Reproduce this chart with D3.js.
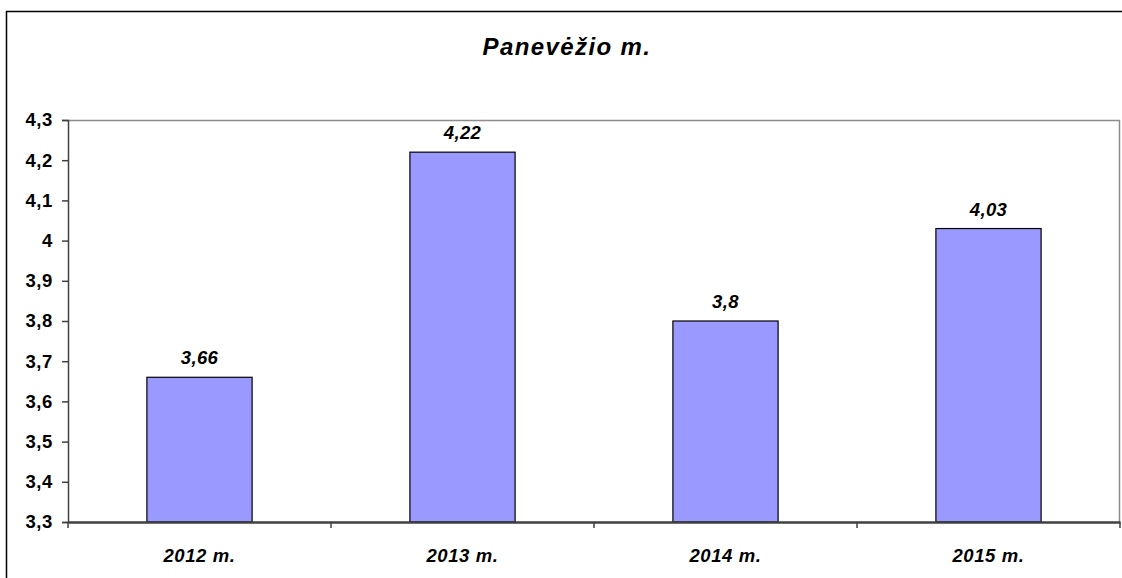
<!DOCTYPE html>
<html>
<head>
<meta charset="utf-8">
<script src="https://cdn.jsdelivr.net/npm/d3@7"></script>
<style>
  body { margin: 0; background: #fff; }
  svg text { font-family: "Liberation Sans", Arial, sans-serif; }
</style>
</head>
<body>
<script>
// Duomenys
var metai = ["2012 m.", "2013 m.", "2014 m.", "2015 m."];
var reiksmes = [3.66, 4.22, 3.8, 4.03];
var yTicks = [3.3, 3.4, 3.5, 3.6, 3.7, 3.8, 3.9, 4.0, 4.1, 4.2, 4.3];
var pavadinimas = "Panevėžio m.";

var W = 1122, H = 578;
var margin = { top: 120, right: 2, bottom: 56, left: 68 },
    width = W - margin.left - margin.right,
    height = H - margin.top - margin.bottom,
    barColor = "#9999FF";

var fmt = function(v) { return String(v).replace(".", ","); };

var svg = d3.select("body").append("svg")
  .attr("width", W)
  .attr("height", H);

// išorinis rėmelis
svg.append("path")
  .attr("d", "M6.5," + H + "V11.5H" + W)
  .attr("fill", "none")
  .attr("stroke", "#000")
  .attr("stroke-width", 1.5);

// pavadinimas
svg.append("text")
  .attr("x", 567)
  .attr("y", 55)
  .attr("text-anchor", "middle")
  .style("font-size", "24px")
  .style("font-weight", "bold")
  .style("font-style", "italic")
  .style("letter-spacing", "1.4px")
  .text(pavadinimas);

var g = svg.append("g")
  .attr("transform", "translate(" + margin.left + "," + margin.top + ")");

var x = d3.scaleBand().domain(metai).range([0, width]).paddingInner(0.6).paddingOuter(0.3);
var xCat = d3.scaleBand().domain(metai).range([0, width]);
var y = d3.scaleLinear().domain([3.3, 4.3]).range([height, 0]);

// ploto rėmelis (viršus, dešinė)
g.append("path")
  .attr("d", "M0,0.5H" + (width - 0.5) + "V" + height)
  .attr("fill", "none")
  .attr("stroke", "#8c8c8c")
  .attr("stroke-width", 1.5);

// stulpeliai
g.selectAll("rect.bar")
  .data(reiksmes)
  .enter()
  .append("rect")
  .attr("class", "bar")
  .attr("x", function(d, i) { return x(metai[i]); })
  .attr("width", x.bandwidth())
  .attr("y", function(d) { return y(d); })
  .attr("height", function(d) { return height - y(d); })
  .attr("fill", barColor)
  .attr("stroke", "#000")
  .attr("stroke-width", 1.2);

// reikšmių žymės
g.selectAll("text.val")
  .data(reiksmes)
  .enter()
  .append("text")
  .attr("class", "val")
  .attr("x", function(d, i) { return x(metai[i]) + x.bandwidth() / 2; })
  .attr("y", function(d) { return y(d) - 13; })
  .attr("text-anchor", "middle")
  .style("font-size", "18.5px")
  .style("font-weight", "bold")
  .style("font-style", "italic")
  .style("letter-spacing", "0.4px")
  .text(function(d) { return fmt(d); });

// Y ašis
var yAxis = g.append("g")
  .call(d3.axisLeft(y).tickValues(yTicks).tickSize(6).tickPadding(9)
    .tickFormat(function(d) { return fmt(+d.toFixed(1)); }));
yAxis.select(".domain").attr("stroke", "#404040").attr("stroke-width", 1.5);
yAxis.selectAll(".tick line").attr("stroke", "#404040").attr("stroke-width", 1.5);
yAxis.selectAll("text")
  .attr("fill", "#000")
  .style("font-size", "18.5px")
  .style("font-weight", "bold")
  .style("letter-spacing", "0.6px");

// X ašis
var xAxis = g.append("g")
  .attr("transform", "translate(0," + height + ")")
  .call(d3.axisBottom(xCat).tickSize(0).tickPadding(27));
xAxis.select(".domain").attr("stroke", "#404040").attr("stroke-width", 2.5);
xAxis.selectAll("text")
  .attr("fill", "#000")
  .style("font-size", "18.5px")
  .style("font-weight", "bold")
  .style("font-style", "italic")
  .style("letter-spacing", "0.6px");

// kategorijų skirtukai
g.append("g")
  .selectAll("line")
  .data(d3.range(metai.length + 1))
  .enter()
  .append("line")
  .attr("x1", function(i) { return i * xCat.step(); })
  .attr("x2", function(i) { return i * xCat.step(); })
  .attr("y1", height)
  .attr("y2", height + 6)
  .attr("stroke", "#404040")
  .attr("stroke-width", 1.5);
</script>
</body>
</html>
